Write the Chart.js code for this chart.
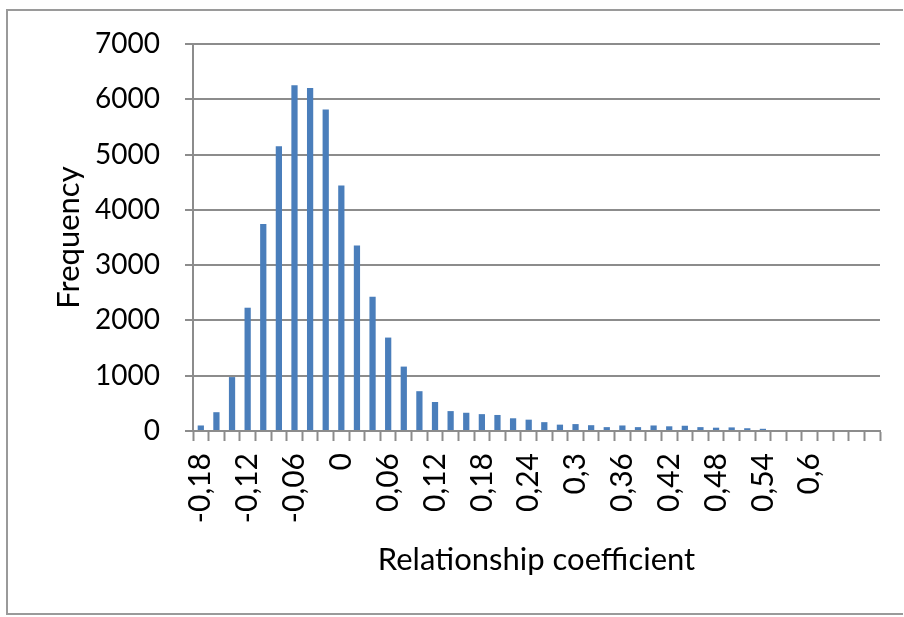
<!DOCTYPE html>
<html lang="en">
<head>
    <meta charset="UTF-8">
    <title>Relationship coefficient histogram</title>
    <script src="https://cdn.jsdelivr.net/npm/chart.js"></script>
    <style>
        body { margin: 0; background: #fff; }
        #wrap { position: relative; width: 904px; height: 617px; }
        #frame {
            position: absolute; left: 6px; top: 9px; width: 897px; height: 606px;
            border: 2px solid #9a9a9a; border-right: none; box-sizing: border-box;
        }
        canvas { position: absolute; left: 0; top: 0; }
    </style>
</head>
<body>
<div id="wrap">
    <div id="frame"></div>
    <canvas id="myChart" width="904" height="617"></canvas>
</div>

<script>
    // bins of the relationship coefficient, step 0.02
    const categories = [
        '-0,18', '-0,16', '-0,14', '-0,12', '-0,1', '-0,08', '-0,06', '-0,04', '-0,02', '0',
        '0,02', '0,04', '0,06', '0,08', '0,1', '0,12', '0,14', '0,16', '0,18', '0,2',
        '0,22', '0,24', '0,26', '0,28', '0,3', '0,32', '0,34', '0,36', '0,38', '0,4',
        '0,42', '0,44', '0,46', '0,48', '0,5', '0,52', '0,54', '0,56', '0,58', '0,6',
        '0,62', '0,64', '0,66', '0,68'
    ];
    // labels actually printed on the x axis
    const shownLabels = [
        '-0,18', '-0,12', '-0,06', '0', '0,06', '0,12', '0,18', '0,24',
        '0,3', '0,36', '0,42', '0,48', '0,54', '0,6'
    ];
    const frequency = [
        100, 340, 975, 2230, 3745, 5150, 6255, 6205, 5815, 4440,
        3355, 2430, 1690, 1165, 720, 525, 360, 330, 305, 290,
        230, 205, 160, 115, 125, 105, 70, 100, 70, 100,
        85, 95, 70, 60, 65, 50, 40, 0, 0, 0,
        0, 0, 0, 0
    ];
    const yTicks = [0, 1000, 2000, 3000, 4000, 5000, 6000, 7000];

    const gridColor = '#8c8c8c';
    const font = 'Lato';

    const ctx = document.getElementById('myChart').getContext('2d');
    new Chart(ctx, {
        type: 'bar',
        data: {
            labels: categories,
            datasets: [{
                label: 'Frequency',
                data: frequency,
                backgroundColor: '#4a7ebb',
                borderWidth: 0,
                categoryPercentage: 1.0,
                barPercentage: 0.4
            }]
        },
        options: {
            responsive: false,
            animation: false,
            layout: { padding: { top: 44, right: 24, left: 50, bottom: 0 } },
            plugins: {
                legend: { display: false },
                tooltip: { enabled: false }
            },
            scales: {
                x: {
                    offset: true,
                    grid: {
                        display: true,
                        drawOnChartArea: false,
                        drawTicks: true,
                        tickLength: 10,
                        tickWidth: 2,
                        color: gridColor,
                        offset: true
                    },
                    border: { color: gridColor, width: 2 },
                    ticks: {
                        autoSkip: false,
                        maxRotation: 90,
                        minRotation: 90,
                        padding: 12,
                        color: '#000',
                        font: { family: font, size: 30 },
                        callback: function (value, index) {
                            const lab = categories[index];
                            return shownLabels.includes(lab) && index % 3 === 0 ? lab : '';
                        }
                    },
                    title: {
                        display: true,
                        text: 'Relationship coefficient',
                        color: '#000',
                        font: { family: font, size: 31 },
                        padding: { top: 8, bottom: 38 }
                    },
                    afterFit: function (scale) {
                        scale.height = 617 - 431;
                        scale.paddingLeft = 0;
                        scale.paddingRight = 0;
                    }
                },
                y: {
                    min: 0,
                    max: 7000,
                    afterBuildTicks: function (scale) {
                        scale.ticks = yTicks.map(v => ({ value: v }));
                    },
                    grid: {
                        color: gridColor,
                        lineWidth: 2,
                        tickLength: 8,
                        tickWidth: 2
                    },
                    border: { color: gridColor, width: 2 },
                    ticks: {
                        color: '#000',
                        padding: 25,
                        font: { family: font, size: 28 },
                        callback: function (value) { return String(value); }
                    },
                    title: {
                        display: true,
                        text: 'Frequency',
                        color: '#000',
                        font: { family: font, size: 31 },
                        padding: { top: 0, bottom: 0 }
                    },
                    afterFit: function (scale) { scale.width = 193 - 50; }
                }
            }
        }
    });
</script>
</body>
</html>
